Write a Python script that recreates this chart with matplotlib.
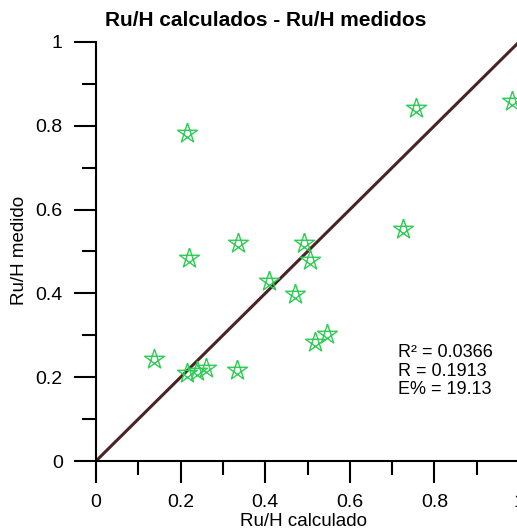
import numpy as np
import matplotlib
matplotlib.use("Agg")
import matplotlib.pyplot as plt
from matplotlib.path import Path
from matplotlib.ticker import MultipleLocator

plt.rcParams['font.family'] = ['Liberation Sans', 'DejaVu Sans']

# data
ru_h_calc = [0.215, 0.757, 0.983, 0.726, 0.220, 0.336, 0.492, 0.506, 0.409,
             0.470, 0.518, 0.546, 0.137, 0.215, 0.239, 0.260, 0.333]
ru_h_med = [0.783, 0.842, 0.859, 0.554, 0.484, 0.520, 0.520, 0.480, 0.430,
            0.399, 0.284, 0.303, 0.243, 0.210, 0.215, 0.222, 0.217]
ideal = [0, 1]
tick_vals = [0, 0.2, 0.4, 0.6, 0.8, 1]
tick_labels = ['0', '0.2', '0.4', '0.6', '0.8', '1']
stats_text = "R² = 0.0366\nR = 0.1913\nE% = 19.13"

# pentagram marker (crossing lines, like the original)
ang = np.deg2rad(90 + 72 * np.arange(5))
pts = np.column_stack([np.cos(ang), np.sin(ang)])
order = [0, 2, 4, 1, 3, 0]
star = Path(pts[order], [Path.MOVETO] + [Path.LINETO] * 5)

W, H = 517, 531
fig = plt.figure(figsize=(W / 100, H / 100), dpi=100)
ax = fig.add_axes([96 / W, 70 / H, 423 / W, 419 / H])

ax.plot(ideal, ideal, color='#4a2424', lw=2.2, zorder=2)
ax.plot(ru_h_calc, ru_h_med, linestyle='none', marker=star, ms=15,
        mfc='none', mec='#2ecc55', mew=1.0, zorder=3)

ax.set_xlim(0, 1)
ax.set_ylim(0, 1)
ax.set_xticks(tick_vals)
ax.set_yticks(tick_vals)
ax.set_xticklabels(tick_labels)
ax.set_yticklabels(tick_labels)
ax.xaxis.set_minor_locator(MultipleLocator(0.1))
ax.yaxis.set_minor_locator(MultipleLocator(0.1))

ax.tick_params(which='major', direction='out', length=16, width=1.5,
               labelsize=14, pad=8)
ax.tick_params(which='minor', direction='out', length=10, width=1.5)

for s in ['top', 'right']:
    ax.spines[s].set_visible(False)
for s in ['left', 'bottom']:
    ax.spines[s].set_linewidth(1.5)

fig.text(20 / W, 1 - 250 / H, 'Ru/H medido', rotation=90, fontsize=13.5,
         ha='center', va='center')
fig.text(303 / W, 1 - 521 / H, 'Ru/H calculado', fontsize=13.5,
         ha='center', va='center')
fig.text(266 / W, 1 - 20 / H, 'Ru/H calculados - Ru/H medidos', fontsize=15,
         fontweight='bold', ha='center', va='center')

ax.text(0.714, 0.279, stats_text, fontsize=13, ha='left', va='top',
        linespacing=1.13)

fig.savefig('out.png', dpi=100)
